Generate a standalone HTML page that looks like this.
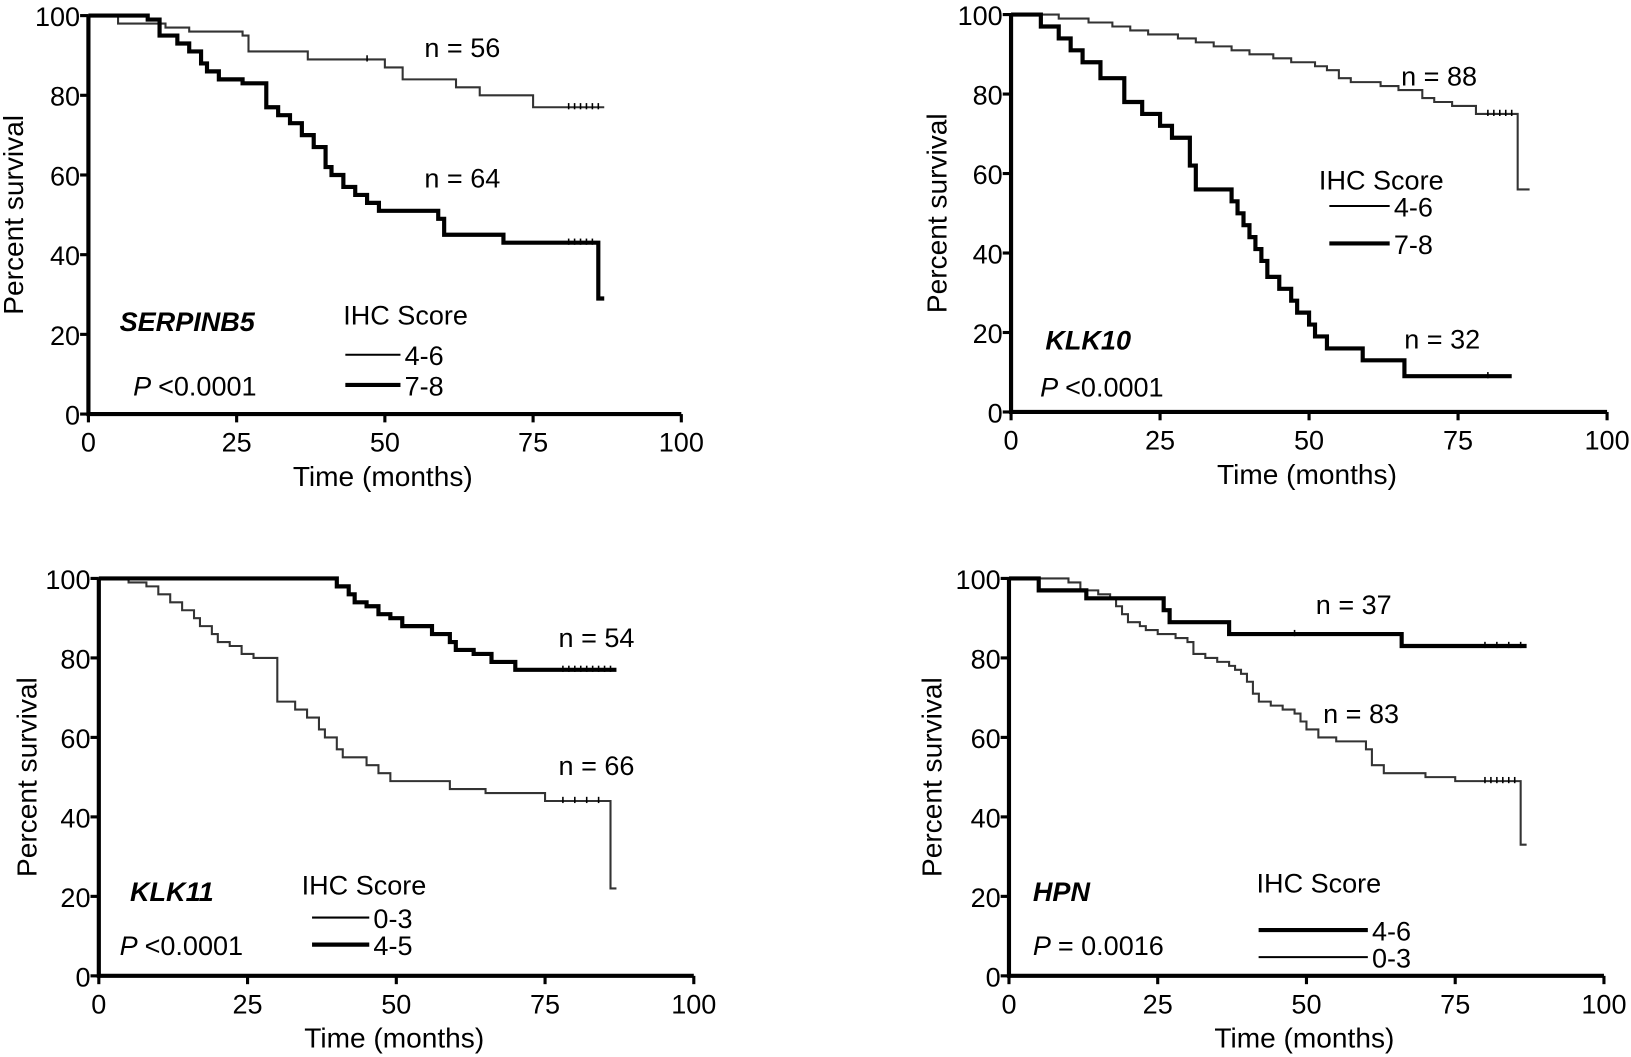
<!DOCTYPE html>
<html><head><meta charset="utf-8"><style>
html,body{margin:0;padding:0;background:#fff;}
svg{display:block;font-family:"Liberation Sans",Arial,sans-serif;}
</style></head><body>
<svg id="fig" width="1631" height="1057" viewBox="0 0 1568 1016" preserveAspectRatio="none" xmlns="http://www.w3.org/2000/svg"></svg>
<script>
// ---- data (time in months, percent survival) ----
const xTicks = [0, 25, 50, 75, 100];
const yTicks = [0, 20, 40, 60, 80, 100];

const p1LowT = [0,5,10,13,17,26,27,37,50,53,62,66,75];
const p1LowS = [100,98,98,97,96,95,91,89,87,84,82,80,77];
const p1HighT = [0,10,12,15,17,19,20,22,26,30,32,34,36,38,40,41,43,45,47,49,59,60,70,86];
const p1HighS = [100,99,95,93,91,88,86,84,83,77,75,73,70,67,62,60,57,55,53,51,49,45,43,29];

const p2LowT = [0,8,13,17,20,23,28,31,34,37,40,44,47,51,53,55,57,62,65,69,71,74,78,85];
const p2LowS = [100,99,98,97,96,95,94,93,92,91,90,89,88,87,86,84,83,82,81,79,78,77,75,56];
const p2HighT = [0,5,8,10,12,15,19,22,25,27,30,31,37,38,39,40,41,42,43,45,47,48,50,51,53,59,66];
const p2HighS = [100,97,94,91,88,84,78,75,72,69,62,56,53,50,47,44,41,38,34,31,28,25,22,19,16,13,9];

const p3HighT = [0,40,42,43,45,47,49,51,56,59,60,63,66,70];
const p3HighS = [100,98,96,94,93,91,90,88,86,84,82,81,79,77];
const p3LowT = [0,5,8,10,12,14,16,17,19,20,22,24,26,30,33,35,37,38,40,41,45,47,49,59,65,75,86];
const p3LowS = [100,99,98,96,94,92,90,88,86,84,83,81,80,69,67,65,62,60,57,55,53,51,49,47,46,44,22];

const p4HighT = [0,5,13,26,27,37,66];
const p4HighS = [100,97,95,92,89,86,83];
const p4LowT = [0,10,12,15,17,18,19,20,22,23,25,28,30,31,33,35,37,38,39,40,41,42,44,46,48,49,50,52,55,60,61,63,70,75,86];
const p4LowS = [100,99,97,96,95,93,91,89,88,87,86,85,84,81,80,79,78,77,76,74,71,69,68,67,66,64,62,60,59,57,53,51,50,49,33];

const NS = "http://www.w3.org/2000/svg";
const svg = document.getElementById('fig');
function mk(tag, attrs, parent){
  const e = document.createElementNS(NS, tag);
  for (const k in attrs) e.setAttribute(k, attrs[k]);
  (parent||svg).appendChild(e);
  return e;
}
function txt(s, x, y, size, parent, extra){
  const t = mk('text', Object.assign({x:x, y:y, 'font-size':size, fill:'#000'}, extra||{}), parent);
  t.textContent = s;
  return t;
}
function valueAt(ts, ss, c){
  let v = ss[0];
  for (let i = 0; i < ts.length; i++) { if (ts[i] <= c) v = ss[i]; }
  return v;
}

function panel(cfg){
  const g = mk('g', {});
  
  
  const X = v => cfg.x0 + (cfg.x1 - cfg.x0) * v / 100;
  const Y = v => cfg.y0 + (cfg.y1 - cfg.y0) * v / 100;
  const ax = mk('path', {d:`M${X(0)} ${Y(100)} V${Y(0)} H${X(100)}`, stroke:'#000', 'stroke-width':4, fill:'none'}, g);
  
  
  xTicks.forEach(v => {
    mk('line', {x1:X(v), x2:X(v), y1:Y(0), y2:Y(0)+8, stroke:'#000', 'stroke-width':3}, g);
    const t = txt(String(v), X(v), Y(0)+36, 26, g, {'text-anchor':'middle'});
    
    
  });
  yTicks.forEach(v => {
    mk('line', {x1:X(0)-8, x2:X(0), y1:Y(v), y2:Y(v), stroke:'#000', 'stroke-width':3}, g);
    const t = txt(String(v), X(0)-8, Y(v)+10, 26, g, {'text-anchor':'end'});
    
    
  });
  const xt = txt('Time (months)', (X(0)+X(100))/2 - 2, Y(0)+69, 27, g, {'text-anchor':'middle'});
  
  
  const yc = (Y(0)+Y(100))/2;
  const yt = txt('Percent survival', cfg.ylx, yc, 27, g, {'text-anchor':'middle', transform:`rotate(-90 ${cfg.ylx} ${yc})`});
  
  
  cfg.series.forEach(s => {
    let d = `M${X(s.t[0])} ${Y(s.s[0])}`;
    for (let i = 1; i < s.t.length; i++) {
      d += ` H${X(s.t[i])} V${Y(s.s[i])}`;
    }
    d += ` H${X(s.end)}`;
    const p = mk('path', {d:d, stroke:'#000', 'stroke-width':s.w, fill:'none', 'stroke-opacity': s.w < 3 ? 0.8 : 1}, g);
    
    
    (s.censor||[]).forEach(c => {
      const cv = valueAt(s.t, s.s, c);
      mk('line', {x1:X(c), x2:X(c), y1:Y(cv)-4, y2:Y(cv)+2, stroke:'#000', 'stroke-width':1.5}, g);
    });
  });
  cfg.texts.forEach(a => {
    const t = txt(a.s, a.x, a.y, a.size||26, g, a.extra||{});
    
    
  });
  cfg.legend.forEach(l => {
    const ln = mk('line', {x1:l.x1, x2:l.x2, y1:l.y, y2:l.y, stroke:'#000', 'stroke-width':l.w}, g);
    
    
    const t = txt(l.label, l.x2+4, l.y+10, 26, g);
    
    
  });
}

panel({name:'panel-serpinb5', x0:85, x1:655, y0:398, y1:15, ylx:22,
  series:[
    {name:'series-4-6', t:p1LowT, s:p1LowS, end:87, w:2, censor:[47,81,82,83,84,85,86]},
    {name:'series-7-8', t:p1HighT, s:p1HighS, end:87, w:4, censor:[81,82,83,84,85]}
  ],
  texts:[
    {s:'n = 56', x:408, y:55, name:'n-label-56'},
    {s:'n = 64', x:408, y:180, name:'n-label-64'},
    {s:'SERPINB5', x:115, y:318, name:'gene-label', extra:{'font-weight':'bold','font-style':'italic'}},
    {s:'P', x:128, y:380, name:'p-value-symbol', extra:{'font-style':'italic'}},
    {s:'<0.0001', x:152, y:380, name:'p-value'},
    {s:'IHC Score', x:330, y:312, name:'legend-title'}
  ],
  legend:[{x1:332, x2:385, y:341, w:2, label:'4-6'},{x1:332, x2:385, y:370, w:4, label:'7-8'}]
});

panel({name:'panel-klk10', x0:972, x1:1545, y0:396, y1:14, ylx:910,
  series:[
    {name:'series-4-6', t:p2LowT, s:p2LowS, end:87, w:2, censor:[80,81,82,83,84]},
    {name:'series-7-8', t:p2HighT, s:p2HighS, end:84, w:4, censor:[80]}
  ],
  texts:[
    {s:'n = 88', x:1347, y:82, name:'n-label-88'},
    {s:'n = 32', x:1350, y:335, name:'n-label-32'},
    {s:'KLK10', x:1005, y:336, name:'gene-label', extra:{'font-weight':'bold','font-style':'italic'}},
    {s:'P', x:1000, y:381, name:'p-value-symbol', extra:{'font-style':'italic'}},
    {s:'<0.0001', x:1024, y:381, name:'p-value'},
    {s:'IHC Score', x:1268, y:182, name:'legend-title'}
  ],
  legend:[{x1:1278, x2:1336, y:198, w:2, label:'4-6'},{x1:1278, x2:1336, y:234, w:4, label:'7-8'}]
});

panel({name:'panel-klk11', x0:95, x1:667, y0:938, y1:556, ylx:35,
  series:[
    {name:'series-4-5', t:p3HighT, s:p3HighS, end:87, w:4, censor:[78,79,80,81,82,83,84,85,86]},
    {name:'series-0-3', t:p3LowT, s:p3LowS, end:87, w:2, censor:[78,80,82,84]}
  ],
  texts:[
    {s:'n = 54', x:537, y:622, name:'n-label-54'},
    {s:'n = 66', x:537, y:745, name:'n-label-66'},
    {s:'KLK11', x:125, y:866, name:'gene-label', extra:{'font-weight':'bold','font-style':'italic'}},
    {s:'P', x:115, y:918, name:'p-value-symbol', extra:{'font-style':'italic'}},
    {s:'<0.0001', x:139, y:918, name:'p-value'},
    {s:'IHC Score', x:290, y:860, name:'legend-title'}
  ],
  legend:[{x1:300, x2:355, y:882, w:2, label:'0-3'},{x1:300, x2:355, y:908, w:4, label:'4-5'}]
});

panel({name:'panel-hpn', x0:970, x1:1542, y0:938, y1:556, ylx:905,
  series:[
    {name:'series-0-3', t:p4LowT, s:p4LowS, end:87, w:2, censor:[80,81,82,83,84,85]},
    {name:'series-4-6', t:p4HighT, s:p4HighS, end:87, w:4, censor:[48,80,82,84,86]}
  ],
  texts:[
    {s:'n = 37', x:1265, y:590, name:'n-label-37'},
    {s:'n = 83', x:1272, y:695, name:'n-label-83'},
    {s:'HPN', x:993, y:866, name:'gene-label', extra:{'font-weight':'bold','font-style':'italic'}},
    {s:'P', x:993, y:918, name:'p-value-symbol', extra:{'font-style':'italic'}},
    {s:'= 0.0016', x:1017, y:918, name:'p-value'},
    {s:'IHC Score', x:1208, y:858, name:'legend-title'}
  ],
  legend:[{x1:1210, x2:1315, y:894, w:4, label:'4-6'},{x1:1210, x2:1315, y:920, w:2, label:'0-3'}]
});
</script>
</body></html>
